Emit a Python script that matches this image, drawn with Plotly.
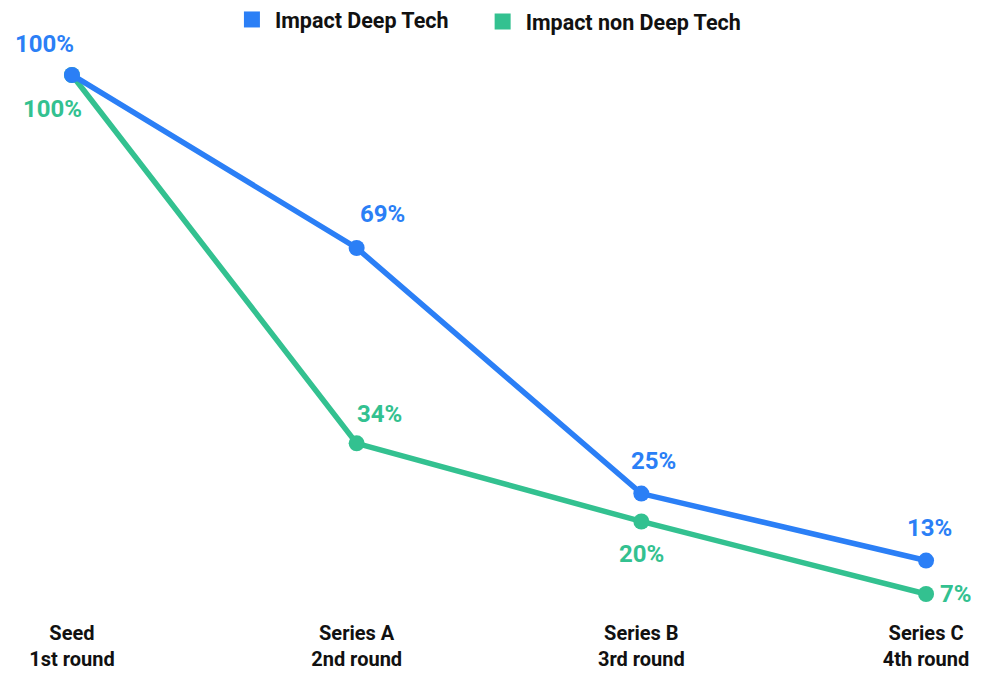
import plotly.graph_objects as go

categories = ["Seed<br>1st round", "Series A<br>2nd round", "Series B<br>3rd round", "Series C<br>4th round"]
deep_tech = [100, 69, 25, 13]
non_deep_tech = [100, 34, 20, 7]
series_names = ["Impact Deep Tech", "Impact non Deep Tech"]

BLUE = "#2B7FF6"
GREEN = "#33C190"
FONT = "Roboto"

# label offsets (style)
blue_offsets = [(-27, 31), (26, 34), (12, 33), (3, 33)]
green_offsets = [(-19, -34), (23, 29), (0, -33), (30, 0)]

xs = list(range(len(categories)))
fig = go.Figure()

for vals, color, name in [(non_deep_tech, GREEN, series_names[1]), (deep_tech, BLUE, series_names[0])]:
    fig.add_trace(go.Scatter(
        x=xs, y=vals, mode="lines+markers", name=name, showlegend=False,
        line=dict(color=color, width=5.5), marker=dict(color=color, size=16),
        hoverinfo="skip",
    ))

# legend entries (one legend box each)
for name, color, lg in [(series_names[0], BLUE, "legend"), (series_names[1], GREEN, "legend2")]:
    fig.add_trace(go.Scatter(
        x=[None], y=[None], mode="markers", name=name, legend=lg,
        marker=dict(color=color, size=16, symbol="square"),
    ))

annotations = []
for vals, offs, color in [(deep_tech, blue_offsets, BLUE), (non_deep_tech, green_offsets, GREEN)]:
    for i, (v, (dx, dy)) in enumerate(zip(vals, offs)):
        annotations.append(dict(
            x=xs[i], y=v, text=f"{v}%", showarrow=False, xshift=dx, yshift=dy,
            font=dict(family=FONT, size=24, color=color, weight=700),
            xanchor="center", yanchor="middle",
        ))

legend_style = dict(orientation="h", yref="paper", yanchor="top", xanchor="left",
                    font=dict(family=FONT, size=21.5, color="#111", weight=700),
                    itemwidth=36, bgcolor="rgba(0,0,0,0)")

fig.update_layout(
    width=976, height=665,
    margin=dict(l=7, r=1, t=0, b=60, autoexpand=False),
    paper_bgcolor="white", plot_bgcolor="white",
    font=dict(family=FONT, size=20, color="black", weight=700),
    annotations=annotations,
    legend=dict(x=0.221, y=1.0149, **legend_style),
    legend2=dict(x=0.480, y=1.0116, **legend_style),
    xaxis=dict(range=[-0.2, 3.2], tickvals=xs, ticktext=categories, showgrid=False, automargin=False,
               zeroline=False, showline=False, ticks="", ticklabelstandoff=6,
               tickfont=dict(family=FONT, size=20, color="#111", weight=700)),
    yaxis=dict(range=[3.60, 112.0], visible=False, showgrid=False, zeroline=False),
)

fig.write_html("out.html")
